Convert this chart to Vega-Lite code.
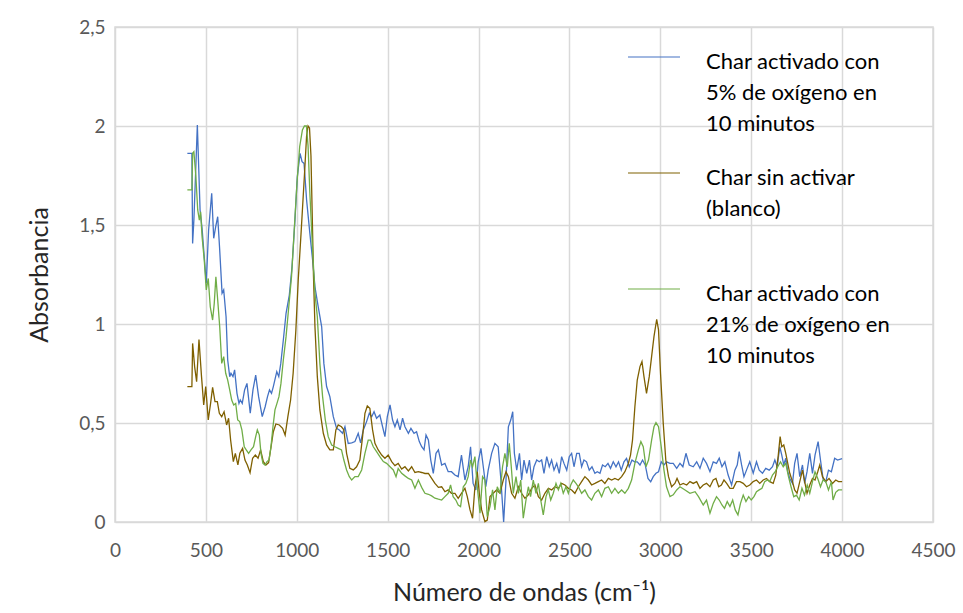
{
  "$schema": "https://vega.github.io/schema/vega-lite/v6.json",
  "autosize": {"type": "none"},
  "width": 818,
  "height": 495,
  "padding": {"left": 115, "top": 27, "right": 30, "bottom": 91},
  "background": "white",
  "config": {
    "view": {"stroke": "#d9d9d9", "strokeWidth": 1.5},
    "axis": {
      "grid": true, "gridColor": "#d9d9d9", "gridWidth": 1.5,
      "domain": false, "ticks": false, "labelFlush": false,
      "labelFont": "Lato", "labelFontSize": 19, "labelColor": "#595959",
      "titleFont": "Lato", "titleFontSize": 25, "titleColor": "#262626", "titleFontWeight": "normal"
    }
  },
  "data": {"values": [
{"s":"a","x":398,"y":1.862},{"s":"a","x":423,"y":1.862},{"s":"a","x":427,"y":1.407},{"s":"a","x":434,"y":1.525},{"s":"a","x":453,"y":2.005},{"s":"a","x":468,"y":1.576},{"s":"a","x":479,"y":1.483},{"s":"a","x":502,"y":1.206},{"s":"a","x":515,"y":1.475},{"s":"a","x":532,"y":1.66},{"s":"a","x":543,"y":1.433},{"s":"a","x":554,"y":1.492},{"s":"a","x":565,"y":1.542},{"s":"a","x":576,"y":1.374},{"s":"a","x":589,"y":1.155},{"s":"a","x":598,"y":1.172},{"s":"a","x":611,"y":1.037},{"s":"a","x":620,"y":0.818},{"s":"a","x":631,"y":0.734},{"s":"a","x":638,"y":0.751},{"s":"a","x":649,"y":0.734},{"s":"a","x":658,"y":0.768},{"s":"a","x":671,"y":0.65},{"s":"a","x":682,"y":0.599},{"s":"a","x":689,"y":0.616},{"s":"a","x":700,"y":0.599},{"s":"a","x":713,"y":0.667},{"s":"a","x":726,"y":0.7},{"s":"a","x":744,"y":0.549},{"s":"a","x":759,"y":0.667},{"s":"a","x":774,"y":0.742},{"s":"a","x":790,"y":0.633},{"s":"a","x":810,"y":0.532},{"s":"a","x":826,"y":0.582},{"s":"a","x":839,"y":0.633},{"s":"a","x":850,"y":0.667},{"s":"a","x":861,"y":0.65},{"s":"a","x":871,"y":0.684},{"s":"a","x":890,"y":0.759},{"s":"a","x":901,"y":0.734},{"s":"a","x":912,"y":0.801},{"s":"a","x":926,"y":0.919},{"s":"a","x":941,"y":1.054},{"s":"a","x":959,"y":1.146},{"s":"a","x":974,"y":1.29},{"s":"a","x":990,"y":1.525},{"s":"a","x":1003,"y":1.744},{"s":"a","x":1018,"y":1.862},{"s":"a","x":1029,"y":1.82},{"s":"a","x":1040,"y":1.811},{"s":"a","x":1054,"y":1.626},{"s":"a","x":1072,"y":1.458},{"s":"a","x":1087,"y":1.323},{"s":"a","x":1100,"y":1.188},{"s":"a","x":1118,"y":1.087},{"s":"a","x":1137,"y":0.986},{"s":"a","x":1149,"y":0.801},{"s":"a","x":1164,"y":0.684},{"s":"a","x":1182,"y":0.633},{"s":"a","x":1201,"y":0.532},{"s":"a","x":1219,"y":0.473},{"s":"a","x":1234,"y":0.465},{"s":"a","x":1252,"y":0.448},{"s":"a","x":1265,"y":0.481},{"s":"a","x":1283,"y":0.397},{"s":"a","x":1302,"y":0.4},{"s":"a","x":1320,"y":0.406},{"s":"a","x":1338,"y":0.448},{"s":"a","x":1351,"y":0.4},{"s":"a","x":1366,"y":0.465},{"s":"a","x":1384,"y":0.507},{"s":"a","x":1399,"y":0.549},{"s":"a","x":1412,"y":0.532},{"s":"a","x":1425,"y":0.557},{"s":"a","x":1439,"y":0.524},{"s":"a","x":1457,"y":0.54},{"s":"a","x":1472,"y":0.481},{"s":"a","x":1485,"y":0.431},{"s":"a","x":1498,"y":0.532},{"s":"a","x":1513,"y":0.591},{"s":"a","x":1527,"y":0.515},{"s":"a","x":1540,"y":0.481},{"s":"a","x":1553,"y":0.515},{"s":"a","x":1568,"y":0.465},{"s":"a","x":1582,"y":0.524},{"s":"a","x":1595,"y":0.481},{"s":"a","x":1614,"y":0.448},{"s":"a","x":1628,"y":0.473},{"s":"a","x":1645,"y":0.448},{"s":"a","x":1659,"y":0.456},{"s":"a","x":1674,"y":0.406},{"s":"a","x":1687,"y":0.38},{"s":"a","x":1700,"y":0.364},{"s":"a","x":1711,"y":0.439},{"s":"a","x":1724,"y":0.414},{"s":"a","x":1737,"y":0.313},{"s":"a","x":1751,"y":0.246},{"s":"a","x":1766,"y":0.347},{"s":"a","x":1779,"y":0.364},{"s":"a","x":1797,"y":0.288},{"s":"a","x":1815,"y":0.296},{"s":"a","x":1833,"y":0.254},{"s":"a","x":1851,"y":0.254},{"s":"a","x":1870,"y":0.237},{"s":"a","x":1888,"y":0.229},{"s":"a","x":1906,"y":0.338},{"s":"a","x":1925,"y":0.212},{"s":"a","x":1943,"y":0.279},{"s":"a","x":1956,"y":0.38},{"s":"a","x":1970,"y":0.195},{"s":"a","x":1985,"y":0.162},{"s":"a","x":1998,"y":0.304},{"s":"a","x":2013,"y":0.372},{"s":"a","x":2026,"y":0.279},{"s":"a","x":2040,"y":0.178},{"s":"a","x":2053,"y":0.262},{"s":"a","x":2072,"y":0.347},{"s":"a","x":2090,"y":0.397},{"s":"a","x":2108,"y":0.38},{"s":"a","x":2123,"y":0.212},{"s":"a","x":2138,"y":0.0},{"s":"a","x":2151,"y":0.212},{"s":"a","x":2164,"y":0.481},{"s":"a","x":2177,"y":0.515},{"s":"a","x":2188,"y":0.557},{"s":"a","x":2197,"y":0.347},{"s":"a","x":2210,"y":0.262},{"s":"a","x":2225,"y":0.347},{"s":"a","x":2237,"y":0.212},{"s":"a","x":2250,"y":0.313},{"s":"a","x":2265,"y":0.246},{"s":"a","x":2280,"y":0.313},{"s":"a","x":2292,"y":0.212},{"s":"a","x":2305,"y":0.279},{"s":"a","x":2320,"y":0.313},{"s":"a","x":2334,"y":0.304},{"s":"a","x":2347,"y":0.313},{"s":"a","x":2360,"y":0.246},{"s":"a","x":2375,"y":0.33},{"s":"a","x":2389,"y":0.279},{"s":"a","x":2402,"y":0.313},{"s":"a","x":2415,"y":0.262},{"s":"a","x":2430,"y":0.296},{"s":"a","x":2444,"y":0.246},{"s":"a","x":2457,"y":0.33},{"s":"a","x":2470,"y":0.296},{"s":"a","x":2485,"y":0.262},{"s":"a","x":2499,"y":0.33},{"s":"a","x":2512,"y":0.347},{"s":"a","x":2525,"y":0.279},{"s":"a","x":2540,"y":0.347},{"s":"a","x":2554,"y":0.347},{"s":"a","x":2567,"y":0.279},{"s":"a","x":2580,"y":0.313},{"s":"a","x":2594,"y":0.304},{"s":"a","x":2609,"y":0.262},{"s":"a","x":2624,"y":0.279},{"s":"a","x":2640,"y":0.246},{"s":"a","x":2653,"y":0.254},{"s":"a","x":2668,"y":0.246},{"s":"a","x":2682,"y":0.288},{"s":"a","x":2697,"y":0.279},{"s":"a","x":2712,"y":0.296},{"s":"a","x":2726,"y":0.271},{"s":"a","x":2741,"y":0.304},{"s":"a","x":2756,"y":0.279},{"s":"a","x":2770,"y":0.304},{"s":"a","x":2785,"y":0.262},{"s":"a","x":2800,"y":0.304},{"s":"a","x":2814,"y":0.321},{"s":"a","x":2829,"y":0.279},{"s":"a","x":2844,"y":0.313},{"s":"a","x":2858,"y":0.304},{"s":"a","x":2873,"y":0.304},{"s":"a","x":2888,"y":0.288},{"s":"a","x":2902,"y":0.313},{"s":"a","x":2917,"y":0.288},{"s":"a","x":2932,"y":0.22},{"s":"a","x":2947,"y":0.203},{"s":"a","x":2961,"y":0.229},{"s":"a","x":2976,"y":0.246},{"s":"a","x":2990,"y":0.254},{"s":"a","x":3005,"y":0.304},{"s":"a","x":3020,"y":0.288},{"s":"a","x":3034,"y":0.304},{"s":"a","x":3053,"y":0.296},{"s":"a","x":3071,"y":0.296},{"s":"a","x":3090,"y":0.271},{"s":"a","x":3108,"y":0.296},{"s":"a","x":3124,"y":0.279},{"s":"a","x":3141,"y":0.347},{"s":"a","x":3159,"y":0.288},{"s":"a","x":3181,"y":0.279},{"s":"a","x":3200,"y":0.304},{"s":"a","x":3218,"y":0.271},{"s":"a","x":3236,"y":0.322},{"s":"a","x":3254,"y":0.296},{"s":"a","x":3273,"y":0.254},{"s":"a","x":3291,"y":0.304},{"s":"a","x":3309,"y":0.296},{"s":"a","x":3324,"y":0.322},{"s":"a","x":3339,"y":0.279},{"s":"a","x":3355,"y":0.304},{"s":"a","x":3373,"y":0.237},{"s":"a","x":3392,"y":0.187},{"s":"a","x":3410,"y":0.262},{"s":"a","x":3423,"y":0.288},{"s":"a","x":3434,"y":0.355},{"s":"a","x":3447,"y":0.288},{"s":"a","x":3460,"y":0.229},{"s":"a","x":3474,"y":0.262},{"s":"a","x":3492,"y":0.304},{"s":"a","x":3511,"y":0.246},{"s":"a","x":3529,"y":0.304},{"s":"a","x":3544,"y":0.262},{"s":"a","x":3562,"y":0.246},{"s":"a","x":3580,"y":0.271},{"s":"a","x":3599,"y":0.262},{"s":"a","x":3617,"y":0.279},{"s":"a","x":3630,"y":0.313},{"s":"a","x":3643,"y":0.279},{"s":"a","x":3657,"y":0.38},{"s":"a","x":3668,"y":0.338},{"s":"a","x":3679,"y":0.288},{"s":"a","x":3690,"y":0.322},{"s":"a","x":3701,"y":0.254},{"s":"a","x":3712,"y":0.22},{"s":"a","x":3727,"y":0.195},{"s":"a","x":3739,"y":0.296},{"s":"a","x":3752,"y":0.347},{"s":"a","x":3767,"y":0.229},{"s":"a","x":3782,"y":0.288},{"s":"a","x":3794,"y":0.195},{"s":"a","x":3807,"y":0.254},{"s":"a","x":3822,"y":0.347},{"s":"a","x":3837,"y":0.246},{"s":"a","x":3851,"y":0.338},{"s":"a","x":3868,"y":0.406},{"s":"a","x":3881,"y":0.313},{"s":"a","x":3895,"y":0.22},{"s":"a","x":3910,"y":0.203},{"s":"a","x":3925,"y":0.262},{"s":"a","x":3941,"y":0.254},{"s":"a","x":3959,"y":0.322},{"s":"a","x":3975,"y":0.313},{"s":"a","x":4000,"y":0.32},
{"s":"b","x":398,"y":0.684},{"s":"b","x":423,"y":0.684},{"s":"b","x":427,"y":0.902},{"s":"b","x":438,"y":0.785},{"s":"b","x":449,"y":0.709},{"s":"b","x":462,"y":0.922},{"s":"b","x":476,"y":0.734},{"s":"b","x":488,"y":0.591},{"s":"b","x":499,"y":0.684},{"s":"b","x":513,"y":0.515},{"s":"b","x":526,"y":0.6},{"s":"b","x":537,"y":0.68},{"s":"b","x":550,"y":0.608},{"s":"b","x":563,"y":0.608},{"s":"b","x":574,"y":0.549},{"s":"b","x":587,"y":0.532},{"s":"b","x":600,"y":0.557},{"s":"b","x":614,"y":0.49},{"s":"b","x":625,"y":0.524},{"s":"b","x":636,"y":0.414},{"s":"b","x":651,"y":0.305},{"s":"b","x":662,"y":0.347},{"s":"b","x":676,"y":0.288},{"s":"b","x":687,"y":0.347},{"s":"b","x":702,"y":0.372},{"s":"b","x":715,"y":0.313},{"s":"b","x":728,"y":0.288},{"s":"b","x":743,"y":0.249},{"s":"b","x":757,"y":0.322},{"s":"b","x":772,"y":0.338},{"s":"b","x":787,"y":0.322},{"s":"b","x":801,"y":0.364},{"s":"b","x":816,"y":0.305},{"s":"b","x":830,"y":0.288},{"s":"b","x":845,"y":0.3},{"s":"b","x":860,"y":0.389},{"s":"b","x":871,"y":0.456},{"s":"b","x":885,"y":0.495},{"s":"b","x":904,"y":0.49},{"s":"b","x":922,"y":0.473},{"s":"b","x":936,"y":0.439},{"s":"b","x":951,"y":0.532},{"s":"b","x":966,"y":0.616},{"s":"b","x":980,"y":0.751},{"s":"b","x":995,"y":0.97},{"s":"b","x":1008,"y":1.222},{"s":"b","x":1023,"y":1.45},{"s":"b","x":1042,"y":1.75},{"s":"b","x":1054,"y":1.95},{"s":"b","x":1062,"y":2.0},{"s":"b","x":1070,"y":1.99},{"s":"b","x":1078,"y":1.85},{"s":"b","x":1085,"y":1.55},{"s":"b","x":1092,"y":1.24},{"s":"b","x":1100,"y":0.986},{"s":"b","x":1113,"y":0.734},{"s":"b","x":1127,"y":0.566},{"s":"b","x":1146,"y":0.448},{"s":"b","x":1164,"y":0.389},{"s":"b","x":1182,"y":0.364},{"s":"b","x":1201,"y":0.364},{"s":"b","x":1215,"y":0.465},{"s":"b","x":1228,"y":0.49},{"s":"b","x":1246,"y":0.481},{"s":"b","x":1259,"y":0.465},{"s":"b","x":1274,"y":0.347},{"s":"b","x":1292,"y":0.271},{"s":"b","x":1311,"y":0.263},{"s":"b","x":1329,"y":0.279},{"s":"b","x":1347,"y":0.313},{"s":"b","x":1362,"y":0.431},{"s":"b","x":1375,"y":0.549},{"s":"b","x":1388,"y":0.586},{"s":"b","x":1402,"y":0.574},{"s":"b","x":1417,"y":0.465},{"s":"b","x":1430,"y":0.397},{"s":"b","x":1448,"y":0.364},{"s":"b","x":1467,"y":0.338},{"s":"b","x":1485,"y":0.322},{"s":"b","x":1503,"y":0.338},{"s":"b","x":1522,"y":0.305},{"s":"b","x":1540,"y":0.285},{"s":"b","x":1558,"y":0.296},{"s":"b","x":1577,"y":0.267},{"s":"b","x":1595,"y":0.279},{"s":"b","x":1614,"y":0.258},{"s":"b","x":1632,"y":0.279},{"s":"b","x":1650,"y":0.25},{"s":"b","x":1669,"y":0.254},{"s":"b","x":1687,"y":0.25},{"s":"b","x":1705,"y":0.245},{"s":"b","x":1724,"y":0.245},{"s":"b","x":1742,"y":0.22},{"s":"b","x":1760,"y":0.195},{"s":"b","x":1779,"y":0.175},{"s":"b","x":1797,"y":0.178},{"s":"b","x":1815,"y":0.153},{"s":"b","x":1833,"y":0.162},{"s":"b","x":1851,"y":0.145},{"s":"b","x":1870,"y":0.145},{"s":"b","x":1888,"y":0.12},{"s":"b","x":1906,"y":0.145},{"s":"b","x":1925,"y":0.17},{"s":"b","x":1938,"y":0.128},{"s":"b","x":1953,"y":0.061},{"s":"b","x":1967,"y":0.019},{"s":"b","x":1980,"y":0.178},{"s":"b","x":1993,"y":0.254},{"s":"b","x":2004,"y":0.145},{"s":"b","x":2017,"y":0.061},{"s":"b","x":2035,"y":0.002},{"s":"b","x":2048,"y":0.01},{"s":"b","x":2063,"y":0.128},{"s":"b","x":2081,"y":0.145},{"s":"b","x":2099,"y":0.162},{"s":"b","x":2118,"y":0.145},{"s":"b","x":2136,"y":0.212},{"s":"b","x":2151,"y":0.254},{"s":"b","x":2164,"y":0.229},{"s":"b","x":2182,"y":0.145},{"s":"b","x":2200,"y":0.12},{"s":"b","x":2219,"y":0.178},{"s":"b","x":2237,"y":0.145},{"s":"b","x":2255,"y":0.12},{"s":"b","x":2274,"y":0.137},{"s":"b","x":2292,"y":0.17},{"s":"b","x":2310,"y":0.187},{"s":"b","x":2329,"y":0.128},{"s":"b","x":2347,"y":0.111},{"s":"b","x":2365,"y":0.145},{"s":"b","x":2384,"y":0.17},{"s":"b","x":2402,"y":0.162},{"s":"b","x":2420,"y":0.178},{"s":"b","x":2439,"y":0.17},{"s":"b","x":2457,"y":0.195},{"s":"b","x":2475,"y":0.187},{"s":"b","x":2494,"y":0.17},{"s":"b","x":2512,"y":0.162},{"s":"b","x":2530,"y":0.145},{"s":"b","x":2549,"y":0.178},{"s":"b","x":2567,"y":0.204},{"s":"b","x":2585,"y":0.229},{"s":"b","x":2604,"y":0.212},{"s":"b","x":2622,"y":0.187},{"s":"b","x":2640,"y":0.195},{"s":"b","x":2659,"y":0.204},{"s":"b","x":2677,"y":0.212},{"s":"b","x":2695,"y":0.195},{"s":"b","x":2714,"y":0.22},{"s":"b","x":2732,"y":0.212},{"s":"b","x":2750,"y":0.22},{"s":"b","x":2769,"y":0.212},{"s":"b","x":2787,"y":0.229},{"s":"b","x":2805,"y":0.254},{"s":"b","x":2824,"y":0.296},{"s":"b","x":2836,"y":0.338},{"s":"b","x":2847,"y":0.414},{"s":"b","x":2860,"y":0.582},{"s":"b","x":2873,"y":0.717},{"s":"b","x":2888,"y":0.785},{"s":"b","x":2899,"y":0.81},{"s":"b","x":2910,"y":0.734},{"s":"b","x":2924,"y":0.65},{"s":"b","x":2939,"y":0.734},{"s":"b","x":2952,"y":0.835},{"s":"b","x":2965,"y":0.936},{"s":"b","x":2980,"y":1.024},{"s":"b","x":2990,"y":0.97},{"s":"b","x":3001,"y":0.751},{"s":"b","x":3016,"y":0.498},{"s":"b","x":3030,"y":0.313},{"s":"b","x":3045,"y":0.229},{"s":"b","x":3062,"y":0.178},{"s":"b","x":3080,"y":0.195},{"s":"b","x":3092,"y":0.22},{"s":"b","x":3108,"y":0.187},{"s":"b","x":3126,"y":0.195},{"s":"b","x":3145,"y":0.187},{"s":"b","x":3163,"y":0.204},{"s":"b","x":3181,"y":0.195},{"s":"b","x":3200,"y":0.204},{"s":"b","x":3218,"y":0.17},{"s":"b","x":3236,"y":0.187},{"s":"b","x":3254,"y":0.195},{"s":"b","x":3273,"y":0.178},{"s":"b","x":3291,"y":0.212},{"s":"b","x":3306,"y":0.22},{"s":"b","x":3321,"y":0.178},{"s":"b","x":3336,"y":0.187},{"s":"b","x":3350,"y":0.212},{"s":"b","x":3365,"y":0.195},{"s":"b","x":3383,"y":0.17},{"s":"b","x":3401,"y":0.17},{"s":"b","x":3419,"y":0.204},{"s":"b","x":3438,"y":0.204},{"s":"b","x":3456,"y":0.195},{"s":"b","x":3474,"y":0.178},{"s":"b","x":3492,"y":0.187},{"s":"b","x":3511,"y":0.204},{"s":"b","x":3529,"y":0.212},{"s":"b","x":3547,"y":0.195},{"s":"b","x":3566,"y":0.212},{"s":"b","x":3584,"y":0.22},{"s":"b","x":3602,"y":0.204},{"s":"b","x":3621,"y":0.195},{"s":"b","x":3635,"y":0.237},{"s":"b","x":3648,"y":0.33},{"s":"b","x":3659,"y":0.431},{"s":"b","x":3668,"y":0.38},{"s":"b","x":3679,"y":0.389},{"s":"b","x":3690,"y":0.347},{"s":"b","x":3701,"y":0.296},{"s":"b","x":3712,"y":0.246},{"s":"b","x":3727,"y":0.204},{"s":"b","x":3739,"y":0.162},{"s":"b","x":3752,"y":0.145},{"s":"b","x":3767,"y":0.204},{"s":"b","x":3782,"y":0.262},{"s":"b","x":3794,"y":0.204},{"s":"b","x":3807,"y":0.145},{"s":"b","x":3822,"y":0.187},{"s":"b","x":3837,"y":0.22},{"s":"b","x":3851,"y":0.212},{"s":"b","x":3866,"y":0.254},{"s":"b","x":3877,"y":0.288},{"s":"b","x":3892,"y":0.229},{"s":"b","x":3910,"y":0.204},{"s":"b","x":3928,"y":0.22},{"s":"b","x":3947,"y":0.195},{"s":"b","x":3965,"y":0.212},{"s":"b","x":3980,"y":0.204},{"s":"b","x":4000,"y":0.204},
{"s":"c","x":398,"y":1.677},{"s":"c","x":423,"y":1.677},{"s":"c","x":427,"y":1.862},{"s":"c","x":434,"y":1.87},{"s":"c","x":445,"y":1.744},{"s":"c","x":455,"y":1.576},{"s":"c","x":464,"y":1.525},{"s":"c","x":471,"y":1.567},{"s":"c","x":479,"y":1.441},{"s":"c","x":491,"y":1.323},{"s":"c","x":502,"y":1.172},{"s":"c","x":513,"y":1.23},{"s":"c","x":524,"y":1.087},{"s":"c","x":537,"y":1.02},{"s":"c","x":546,"y":1.104},{"s":"c","x":555,"y":1.239},{"s":"c","x":565,"y":1.121},{"s":"c","x":576,"y":0.986},{"s":"c","x":587,"y":0.801},{"s":"c","x":598,"y":0.835},{"s":"c","x":609,"y":0.751},{"s":"c","x":620,"y":0.717},{"s":"c","x":631,"y":0.667},{"s":"c","x":642,"y":0.616},{"s":"c","x":653,"y":0.591},{"s":"c","x":664,"y":0.599},{"s":"c","x":675,"y":0.515},{"s":"c","x":686,"y":0.507},{"s":"c","x":698,"y":0.465},{"s":"c","x":711,"y":0.38},{"s":"c","x":722,"y":0.364},{"s":"c","x":735,"y":0.347},{"s":"c","x":748,"y":0.364},{"s":"c","x":762,"y":0.38},{"s":"c","x":774,"y":0.431},{"s":"c","x":783,"y":0.465},{"s":"c","x":794,"y":0.439},{"s":"c","x":803,"y":0.347},{"s":"c","x":814,"y":0.296},{"s":"c","x":825,"y":0.288},{"s":"c","x":836,"y":0.305},{"s":"c","x":847,"y":0.313},{"s":"c","x":858,"y":0.38},{"s":"c","x":869,"y":0.481},{"s":"c","x":880,"y":0.566},{"s":"c","x":891,"y":0.599},{"s":"c","x":902,"y":0.633},{"s":"c","x":913,"y":0.7},{"s":"c","x":926,"y":0.818},{"s":"c","x":941,"y":0.936},{"s":"c","x":956,"y":1.087},{"s":"c","x":971,"y":1.239},{"s":"c","x":986,"y":1.475},{"s":"c","x":1001,"y":1.711},{"s":"c","x":1016,"y":1.896},{"s":"c","x":1031,"y":1.98},{"s":"c","x":1042,"y":2.0},{"s":"c","x":1053,"y":2.0},{"s":"c","x":1062,"y":1.9},{"s":"c","x":1072,"y":1.66},{"s":"c","x":1087,"y":1.374},{"s":"c","x":1100,"y":1.155},{"s":"c","x":1113,"y":1.037},{"s":"c","x":1127,"y":0.801},{"s":"c","x":1142,"y":0.633},{"s":"c","x":1157,"y":0.515},{"s":"c","x":1173,"y":0.431},{"s":"c","x":1192,"y":0.389},{"s":"c","x":1210,"y":0.38},{"s":"c","x":1228,"y":0.372},{"s":"c","x":1246,"y":0.364},{"s":"c","x":1259,"y":0.313},{"s":"c","x":1274,"y":0.263},{"s":"c","x":1289,"y":0.229},{"s":"c","x":1302,"y":0.212},{"s":"c","x":1320,"y":0.229},{"s":"c","x":1338,"y":0.229},{"s":"c","x":1357,"y":0.263},{"s":"c","x":1375,"y":0.347},{"s":"c","x":1393,"y":0.414},{"s":"c","x":1406,"y":0.414},{"s":"c","x":1421,"y":0.38},{"s":"c","x":1439,"y":0.355},{"s":"c","x":1457,"y":0.33},{"s":"c","x":1476,"y":0.305},{"s":"c","x":1494,"y":0.296},{"s":"c","x":1513,"y":0.279},{"s":"c","x":1531,"y":0.263},{"s":"c","x":1546,"y":0.229},{"s":"c","x":1558,"y":0.27},{"s":"c","x":1577,"y":0.246},{"s":"c","x":1595,"y":0.233},{"s":"c","x":1614,"y":0.22},{"s":"c","x":1632,"y":0.212},{"s":"c","x":1650,"y":0.17},{"s":"c","x":1669,"y":0.212},{"s":"c","x":1687,"y":0.175},{"s":"c","x":1705,"y":0.145},{"s":"c","x":1724,"y":0.14},{"s":"c","x":1742,"y":0.132},{"s":"c","x":1760,"y":0.12},{"s":"c","x":1779,"y":0.115},{"s":"c","x":1797,"y":0.111},{"s":"c","x":1815,"y":0.128},{"s":"c","x":1833,"y":0.145},{"s":"c","x":1846,"y":0.187},{"s":"c","x":1860,"y":0.128},{"s":"c","x":1875,"y":0.111},{"s":"c","x":1888,"y":0.086},{"s":"c","x":1901,"y":0.078},{"s":"c","x":1916,"y":0.178},{"s":"c","x":1930,"y":0.195},{"s":"c","x":1943,"y":0.229},{"s":"c","x":1956,"y":0.313},{"s":"c","x":1967,"y":0.279},{"s":"c","x":1980,"y":0.33},{"s":"c","x":1993,"y":0.178},{"s":"c","x":2008,"y":0.044},{"s":"c","x":2022,"y":0.229},{"s":"c","x":2035,"y":0.212},{"s":"c","x":2048,"y":0.027},{"s":"c","x":2063,"y":0.078},{"s":"c","x":2077,"y":0.162},{"s":"c","x":2090,"y":0.061},{"s":"c","x":2103,"y":0.178},{"s":"c","x":2118,"y":0.145},{"s":"c","x":2132,"y":0.279},{"s":"c","x":2145,"y":0.347},{"s":"c","x":2158,"y":0.279},{"s":"c","x":2169,"y":0.397},{"s":"c","x":2180,"y":0.279},{"s":"c","x":2191,"y":0.145},{"s":"c","x":2206,"y":0.229},{"s":"c","x":2219,"y":0.145},{"s":"c","x":2232,"y":0.212},{"s":"c","x":2246,"y":0.019},{"s":"c","x":2261,"y":0.111},{"s":"c","x":2274,"y":0.178},{"s":"c","x":2286,"y":0.128},{"s":"c","x":2301,"y":0.212},{"s":"c","x":2316,"y":0.145},{"s":"c","x":2329,"y":0.195},{"s":"c","x":2342,"y":0.111},{"s":"c","x":2356,"y":0.036},{"s":"c","x":2371,"y":0.128},{"s":"c","x":2384,"y":0.162},{"s":"c","x":2397,"y":0.111},{"s":"c","x":2411,"y":0.145},{"s":"c","x":2426,"y":0.195},{"s":"c","x":2439,"y":0.162},{"s":"c","x":2452,"y":0.195},{"s":"c","x":2466,"y":0.145},{"s":"c","x":2481,"y":0.178},{"s":"c","x":2494,"y":0.145},{"s":"c","x":2507,"y":0.187},{"s":"c","x":2521,"y":0.212},{"s":"c","x":2536,"y":0.195},{"s":"c","x":2549,"y":0.178},{"s":"c","x":2567,"y":0.145},{"s":"c","x":2585,"y":0.162},{"s":"c","x":2604,"y":0.128},{"s":"c","x":2622,"y":0.111},{"s":"c","x":2640,"y":0.145},{"s":"c","x":2659,"y":0.162},{"s":"c","x":2677,"y":0.128},{"s":"c","x":2695,"y":0.17},{"s":"c","x":2714,"y":0.178},{"s":"c","x":2732,"y":0.145},{"s":"c","x":2750,"y":0.17},{"s":"c","x":2769,"y":0.145},{"s":"c","x":2787,"y":0.162},{"s":"c","x":2805,"y":0.145},{"s":"c","x":2824,"y":0.17},{"s":"c","x":2842,"y":0.212},{"s":"c","x":2860,"y":0.296},{"s":"c","x":2879,"y":0.364},{"s":"c","x":2893,"y":0.406},{"s":"c","x":2906,"y":0.38},{"s":"c","x":2921,"y":0.279},{"s":"c","x":2935,"y":0.313},{"s":"c","x":2952,"y":0.414},{"s":"c","x":2965,"y":0.481},{"s":"c","x":2976,"y":0.502},{"s":"c","x":2990,"y":0.481},{"s":"c","x":3005,"y":0.38},{"s":"c","x":3020,"y":0.262},{"s":"c","x":3034,"y":0.178},{"s":"c","x":3053,"y":0.128},{"s":"c","x":3071,"y":0.137},{"s":"c","x":3090,"y":0.162},{"s":"c","x":3108,"y":0.178},{"s":"c","x":3136,"y":0.162},{"s":"c","x":3163,"y":0.145},{"s":"c","x":3191,"y":0.153},{"s":"c","x":3210,"y":0.128},{"s":"c","x":3236,"y":0.086},{"s":"c","x":3254,"y":0.111},{"s":"c","x":3273,"y":0.044},{"s":"c","x":3291,"y":0.094},{"s":"c","x":3309,"y":0.128},{"s":"c","x":3324,"y":0.111},{"s":"c","x":3339,"y":0.086},{"s":"c","x":3353,"y":0.069},{"s":"c","x":3368,"y":0.103},{"s":"c","x":3383,"y":0.078},{"s":"c","x":3398,"y":0.111},{"s":"c","x":3412,"y":0.061},{"s":"c","x":3427,"y":0.036},{"s":"c","x":3441,"y":0.094},{"s":"c","x":3456,"y":0.136},{"s":"c","x":3471,"y":0.103},{"s":"c","x":3486,"y":0.128},{"s":"c","x":3500,"y":0.111},{"s":"c","x":3515,"y":0.128},{"s":"c","x":3529,"y":0.153},{"s":"c","x":3544,"y":0.162},{"s":"c","x":3559,"y":0.17},{"s":"c","x":3574,"y":0.204},{"s":"c","x":3589,"y":0.212},{"s":"c","x":3602,"y":0.204},{"s":"c","x":3617,"y":0.237},{"s":"c","x":3632,"y":0.254},{"s":"c","x":3646,"y":0.279},{"s":"c","x":3661,"y":0.304},{"s":"c","x":3676,"y":0.279},{"s":"c","x":3690,"y":0.296},{"s":"c","x":3705,"y":0.229},{"s":"c","x":3719,"y":0.178},{"s":"c","x":3734,"y":0.128},{"s":"c","x":3749,"y":0.136},{"s":"c","x":3764,"y":0.111},{"s":"c","x":3779,"y":0.17},{"s":"c","x":3793,"y":0.136},{"s":"c","x":3808,"y":0.187},{"s":"c","x":3822,"y":0.145},{"s":"c","x":3837,"y":0.204},{"s":"c","x":3851,"y":0.254},{"s":"c","x":3866,"y":0.22},{"s":"c","x":3881,"y":0.178},{"s":"c","x":3895,"y":0.212},{"s":"c","x":3910,"y":0.204},{"s":"c","x":3925,"y":0.162},{"s":"c","x":3941,"y":0.204},{"s":"c","x":3950,"y":0.111},{"s":"c","x":3965,"y":0.15},{"s":"c","x":3980,"y":0.162},{"s":"c","x":4000,"y":0.162}
  ]},
  "mark": {"type": "line", "strokeWidth": 1.3, "interpolate": "linear"},
  "encoding": {
    "x": {
      "field": "x", "type": "quantitative",
      "scale": {"domain": [0, 4500], "nice": false},
      "axis": {"values": [0,500,1000,1500,2000,2500,3000,3500,4000,4500], "format": "d", "labelPadding": 19, "titlePadding": 20, "title": "Número de ondas (cm⁻¹)"}
    },
    "y": {
      "field": "y", "type": "quantitative",
      "scale": {"domain": [0, 2.5], "nice": false, "zero": true},
      "axis": {"values": [0,0.5,1,1.5,2,2.5], "labelExpr": "replace(toString(datum.value), '.', ',')", "labelPadding": 10, "titlePadding": 26, "title": "Absorbancia"}
    },
    "color": {
      "field": "s", "type": "nominal",
      "scale": {"domain": ["a","b","c"], "range": ["#4472C4","#7F6000","#70AD47"]},
      "legend": {
        "title": null,
        "orient": "none", "legendX": 512, "legendY": 3,
        "direction": "vertical",
        "symbolType": "stroke", "symbolSize": 2704, "symbolStrokeWidth": 1.2,
        "labelFont": "Lato", "labelFontSize": 22, "labelColor": "#000000",
        "labelBaseline": "top", "labelOffset": 25, "labelLimit": 400,
        "rowPadding": 11, "padding": 0,
        "labelExpr": "datum.value == 'a' ? ['Char activado con','5% de oxígeno en','10 minutos'] : datum.value == 'b' ? ['Char sin activar','(blanco)',''] : ['Char activado con','21% de oxígeno en','10 minutos']",
        "encode": {"labels": {"update": {"lineHeight": {"value": 31}, "dy": {"value": -5}}}}
      }
    }
  }
}
